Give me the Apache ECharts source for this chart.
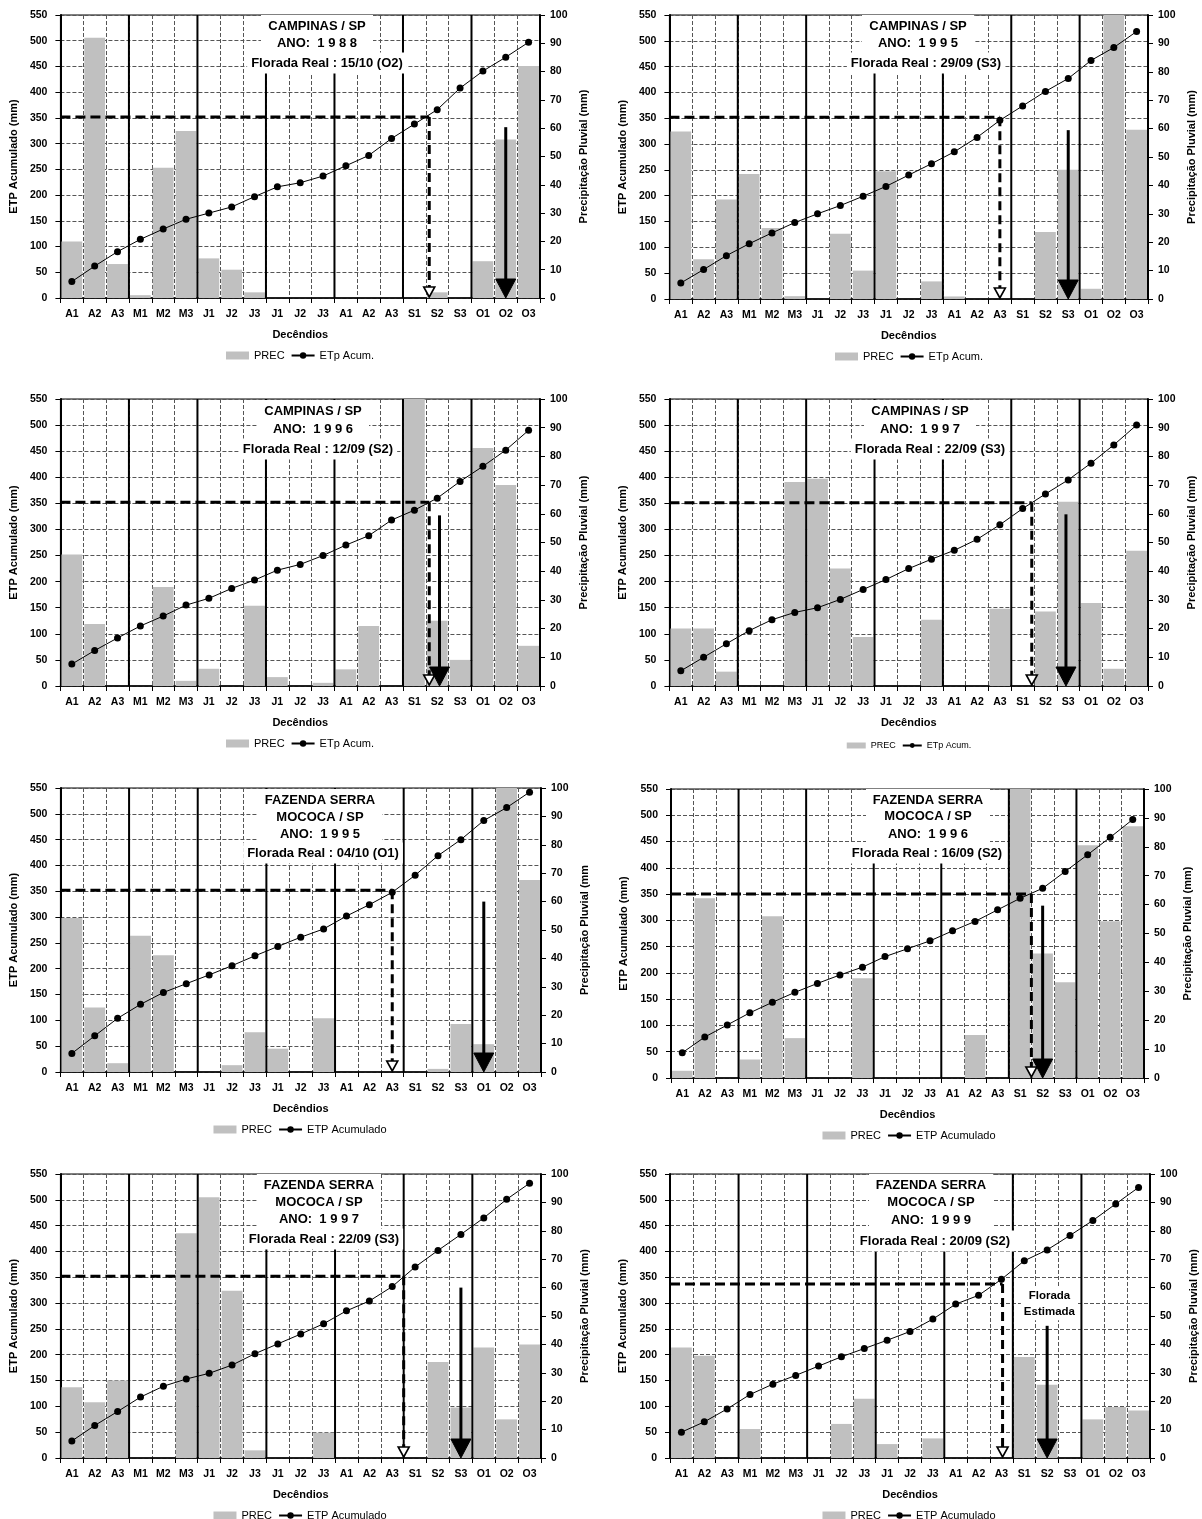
<!DOCTYPE html>
<html><head><meta charset="utf-8">
<script src="https://cdn.jsdelivr.net/npm/echarts@6/dist/echarts.min.js"></script>
<style>
html,body{margin:0;padding:0;background:#fff;overflow:hidden;width:1202px;height:1519px;position:relative}
.p{position:absolute;width:600px;height:385px}
</style></head>
<body>
<script>
// ---------- DATA ----------
const categories = ['A1','A2','A3','M1','M2','M3','J1','J2','J3','J1','J2','J3','A1','A2','A3','S1','S2','S3','O1','O2','O3'];
const monthBounds = [3, 6, 9, 12, 15, 18];

// Precipitação pluvial (mm) per decêndio
const precCampinas1988 = [20, 92, 12, 1, 46, 59, 14, 10, 2, 0, 0, 0, 0, 0, 0, 0, 2, 0, 13, 56, 82];
const precCampinas1995 = [59, 14, 35, 44, 25, 1, 0, 23, 10, 45, 0, 6.2, 0.9, 0, 0, 0, 23.6, 45.5, 3.6, 105, 59.6];
const precCampinas1996 = [45.8, 21.6, 0, 0, 34.5, 1.8, 6, 0, 28, 3.1, 0, 1.1, 5.8, 20.9, 0, 105, 22.7, 9.1, 82.9, 70, 14];
const precCampinas1997 = [20, 20, 5, 0, 0, 71.1, 72.2, 40.9, 17.1, 0, 0, 23.1, 0, 0, 26.9, 0, 26, 64.2, 28.9, 6, 47.1];
const precMococa1995 = [54.2, 22.7, 3.1, 48, 41.1, 0, 0, 2.4, 14, 8.2, 0, 18.9, 0, 0, 0, 0, 1.1, 16.9, 9.8, 105, 67.6];
const precMococa1996 = [2.5, 62.2, 0, 6.4, 56, 13.8, 0, 0, 34.5, 0, 0, 0, 0, 14.9, 0, 105, 43.1, 33.1, 80.5, 54.2, 87.1];
const precMococa1997 = [24.9, 19.6, 27.3, 0, 0, 79.1, 91.8, 58.9, 2.7, 0, 0, 8.9, 0, 0, 0, 0, 33.8, 17.8, 38.9, 13.6, 40];
const precMococa1999 = [38.9, 36, 0, 10.2, 0, 0, 0, 12, 20.9, 4.9, 0, 6.9, 0, 0, 0, 35.6, 25.8, 0, 13.6, 18, 16.7];

// ETP acumulado (mm)
const etpCampinas1988 = [32, 62, 90, 114, 134, 153, 165, 177, 197, 216, 224, 237, 257, 277, 310, 338, 366, 408, 441, 468, 497];
const etpCampinas1995 = [31, 57, 84, 107, 128, 148, 165, 181, 199, 218, 240, 262, 285, 313, 346, 374, 402, 427, 462, 487, 518];
const etpCampinas1996 = [42, 68, 92, 115, 134, 155, 168, 187, 203, 222, 233, 250, 270, 288, 318, 337, 360, 392, 421, 452, 490];
const etpCampinas1997 = [29, 55, 81, 106, 127, 141, 150, 166, 185, 204, 225, 243, 260, 281, 309, 340, 368, 395, 427, 462, 500];
const etpMococa1995 = [36, 70, 104, 131, 154, 171, 188, 206, 225, 243, 261, 277, 302, 324, 348, 381, 419, 450, 487, 512, 542];
const etpMococa1996 = [48, 78, 101, 124, 144, 163, 180, 196, 211, 231, 246, 261, 280, 298, 320, 342, 361, 393, 425, 458, 492];
const etpMococa1997 = [33, 63, 90, 118, 139, 153, 164, 180, 202, 221, 240, 260, 285, 304, 332, 370, 402, 433, 465, 501, 532];
const etpMococa1999 = [50, 70, 95, 123, 143, 160, 178, 196, 212, 228, 245, 269, 298, 315, 346, 382, 403, 431, 460, 492, 524];

// ---------- PANELS ----------
const panels = [
  {x:0, y:0, grid:{left:59, top:15, width:481, height:283}, prec:precCampinas1988, etp:etpCampinas1988,
   title:['CAMPINAS / SP','ANO:  1 9 8 8','Florada Real : 15/10 (O2)'], tx:258, tx3:268, ty:[11,28,48], boxW:100,
   thr:352, drop:16.15, arrowX:19.5, arrowTop:332, etpName:'ETp Acum.', y2Name:'Precipitação Pluvial (mm)'},
  {x:609, y:0, grid:{left:58, top:15, width:481, height:284}, prec:precCampinas1995, etp:etpCampinas1995,
   title:['CAMPINAS / SP','ANO:  1 9 9 5','Florada Real : 29/09 (S3)'], tx:251, tx3:259, ty:[11,28,48], boxW:100,
   thr:352, drop:14.5, arrowX:17.5, arrowTop:327, etpName:'ETp Acum.', y2Name:'Precipitação Pluvial (mm)'},
  {x:0, y:384, grid:{left:59, top:15, width:481, height:287}, prec:precCampinas1996, etp:etpCampinas1996,
   title:['CAMPINAS / SP','ANO:  1 9 9 6','Florada Real : 12/09 (S2)'], tx:254, tx3:259, ty:[12,30,50], boxW:100,
   thr:352, drop:16.15, arrowX:16.6, arrowTop:327, etpName:'ETp Acum.', y2Name:'Precipitação Pluvial (mm)'},
  {x:609, y:384, grid:{left:58, top:15, width:481, height:287}, prec:precCampinas1997, etp:etpCampinas1997,
   title:['CAMPINAS / SP','ANO:  1 9 9 7','Florada Real : 22/09 (S3)'], tx:253, tx3:263, ty:[12,30,50], boxW:100,
   thr:351, drop:15.9, arrowX:17.4, arrowTop:329, etpName:'ETp Acum.', y2Name:'Precipitação Pluvial (mm)', smallLegend:true},
  {x:0, y:773, grid:{left:60, top:15, width:481, height:284}, prec:precMococa1995, etp:etpMococa1995,
   title:['FAZENDA SERRA','MOCOCA / SP','ANO:  1 9 9 5','Florada Real : 04/10 (O1)'], tx:260, tx3:263, ty:[12,29,46,65], boxW:112,
   thr:352, drop:14.5, arrowX:18.5, arrowTop:330, etpName:'ETP Acumulado', y2Name:'Precipitação Pluvial (mm'},
  {x:609, y:773, grid:{left:62, top:16, width:473, height:289}, prec:precMococa1996, etp:etpMococa1996,
   title:['FAZENDA SERRA','MOCOCA / SP','ANO:  1 9 9 6','Florada Real : 16/09 (S2)'], tx:257, tx3:256, ty:[11,27,45,64], boxW:112,
   thr:350, drop:16.0, arrowX:16.5, arrowTop:328, etpName:'ETP Acumulado', y2Name:'Precipitação Pluvial (mm)'},
  {x:0, y:1159, grid:{left:60, top:15, width:481, height:284}, prec:precMococa1997, etp:etpMococa1997,
   title:['FAZENDA SERRA','MOCOCA / SP','ANO:  1 9 9 7','Florada Real : 22/09 (S3)'], tx:259, tx3:264, ty:[11,28,45,65], boxW:112,
   thr:352, drop:15.0, arrowX:17.5, arrowTop:330, etpName:'ETP Acumulado', y2Name:'Precipitação Pluvial (mm)'},
  {x:609, y:1159, grid:{left:61, top:15, width:480, height:284}, prec:precMococa1999, etp:etpMococa1999,
   title:['FAZENDA SERRA','MOCOCA / SP','ANO:  1 9 9 9','Florada Real : 20/09 (S2)'], tx:261, tx3:265, ty:[11,28,46,67], boxW:112,
   thr:337, drop:14.55, arrowX:16.5, arrowTop:256, etpName:'ETP Acumulado', y2Name:'Precipitação Pluvial (mm)',
   note:{x:16.6, ys:[314,284], lines:['Florada','Estimada']}}
];

const FONT = '"Liberation Sans", Arial, sans-serif';
const NARROW = '"Liberation Sans Narrow", "Liberation Sans", Arial, sans-serif';

function monthRender(params, api){
  const t = api.coord([api.value(0), 550]);
  const b = api.coord([api.value(0), 0]);
  return {type:'line', shape:{x1:t[0], y1:t[1], x2:b[0], y2:b[1]}, style:{stroke:'#000', lineWidth:2}};
}
function arrowRender(params, api){
  const x = api.value(0), y = api.value(1), dashed = api.value(2) === 1;
  const t = api.coord([x, y]);
  const b = api.coord([x, 0]);
  if (dashed) {
    const hh = 11, hw = 5.5;
    return {type:'group', children:[
      {type:'line', shape:{x1:t[0], y1:t[1], x2:b[0], y2:b[1]-hh}, style:{stroke:'#000', lineWidth:3, lineDash:[9,5]}},
      {type:'polygon', shape:{points:[[b[0]-hw, b[1]-hh],[b[0]+hw, b[1]-hh],[b[0], b[1]-1]]}, style:{fill:'#fff', stroke:'#000', lineWidth:1.6}}
    ]};
  }
  const hh = 19, hw = 10;
  return {type:'group', children:[
    {type:'line', shape:{x1:t[0], y1:t[1], x2:b[0], y2:b[1]-hh+2}, style:{stroke:'#000', lineWidth:3}},
    {type:'polygon', shape:{points:[[b[0]-hw, b[1]-hh],[b[0]+hw, b[1]-hh],[b[0], b[1]]]}, style:{fill:'#000', stroke:'#000', lineWidth:1}}
  ]};
}

function build(p){
  const g = p.grid;
  const n = p.title.length;
  const graphics = p.title.map((t, i) => {
    const last = i === n-1;
    const style = {text:t, font:'bold 13px ' + FONT, fill:'#000', align:'center', verticalAlign:'middle',
      backgroundColor:'#fff', lineHeight:19,
      padding: last ? [1,4] : (i === 0 ? [0,6,3,6] : [2,6])};
    if (!last) style.width = p.boxW;
    return {type:'text', z:100, x: g.left + (last ? p.tx3 : p.tx), y: g.top + p.ty[i], style:style};
  });
  const axisLabel = {fontSize:10.5, fontWeight:'bold', color:'#000', fontFamily:FONT};
  const nameStyle = {fontSize:11, fontWeight:'bold', color:'#000', fontFamily:FONT};
  const grid = '#555';
  const series = [
    {type:'bar', name:'PREC', data:p.prec, xAxisIndex:0, yAxisIndex:1, barCategoryGap:'9%',
     itemStyle:{color:'#c0c0c0'}, clip:true, z:2},
    {type:'custom', name:'months', xAxisIndex:1, yAxisIndex:0, data:monthBounds.map(b => [b, 550]),
     renderItem:monthRender, z:3, silent:true, clip:false},
    {type:'line', name:p.etpName, data:p.etp, xAxisIndex:0, yAxisIndex:0, symbol:'circle', symbolSize:7,
     lineStyle:{color:'#000', width:1}, itemStyle:{color:'#000'}, z:4},
    {type:'line', name:'limiar', xAxisIndex:1, yAxisIndex:0, data:[[0, p.thr],[p.drop, p.thr]], symbol:'none',
     lineStyle:{color:'#000', width:3, type:[10,5]}, z:5, silent:true},
    {type:'custom', name:'setas', xAxisIndex:1, yAxisIndex:0,
     data:[[p.drop, p.thr, 1],[p.arrowX, p.arrowTop, 0]], renderItem:arrowRender, z:6, silent:true, clip:false}
  ];
  if (p.note) {
    series.push({type:'custom', name:'nota', xAxisIndex:1, yAxisIndex:0,
      data:p.note.ys.map((y, i) => [p.note.x, y, i]), z:7, silent:true, clip:false,
      renderItem:function(params, api){
        const c = api.coord([api.value(0), api.value(1)]);
        return {type:'text', x:c[0], y:c[1], style:{text:p.note.lines[params.dataIndex], font:'bold 11.5px ' + FONT,
          fill:'#000', align:'center', verticalAlign:'middle', backgroundColor:'#fff', padding:[1,3], lineHeight:16}};
      }});
  }
  const small = !!p.smallLegend;
  return {
    animation:false,
    textStyle:{fontFamily:FONT},
    grid:{left:g.left, top:g.top, width:g.width, height:g.height, show:true, borderColor:'#000', borderWidth:1, backgroundColor:'#fff'},
    legend:{
      data:[{name:'PREC', icon:'rect'}, {name:p.etpName}],
      left:'center', top:g.top + g.height + (small ? 50 : 47),
      itemWidth: small ? 19 : 23, itemHeight: small ? 6 : 8, itemGap: 6,
      textStyle:{fontSize: small ? 9 : 11, color:'#000', fontFamily:NARROW},
      selectedMode:false
    },
    xAxis:[
      {type:'category', data:categories, boundaryGap:true, gridIndex:0,
       axisLine:{show:true, lineStyle:{color:'#000', width:1.5}},
       axisTick:{show:true, interval:0, length:5, lineStyle:{color:'#000'}},
       axisLabel:Object.assign({interval:0, margin:11}, axisLabel),
       splitLine:{show:true, interval:0, lineStyle:{color:grid, type:[4,2], width:1}},
       name:'Decêndios', nameLocation:'middle', nameGap:31, nameTextStyle:nameStyle},
      {type:'value', min:0, max:21, show:false, position:'top', gridIndex:0}
    ],
    yAxis:[
      {type:'value', min:0, max:550, interval:50, position:'left',
       axisLine:{show:true, lineStyle:{color:'#000', width:2}},
       axisTick:{show:true, length:5, lineStyle:{color:'#000'}},
       axisLabel:Object.assign({margin:13}, axisLabel),
       splitLine:{show:true, lineStyle:{color:grid, type:[4,2], width:1}},
       name:'ETP Acumulado (mm)', nameLocation:'middle', nameGap:34, nameTextStyle:nameStyle},
      {type:'value', min:0, max:100, interval:10, position:'right',
       axisLine:{show:true, lineStyle:{color:'#000', width:2}},
       axisTick:{show:true, length:5, lineStyle:{color:'#000'}},
       axisLabel:Object.assign({margin:10}, axisLabel),
       splitLine:{show:false},
       name:p.y2Name, nameLocation:'middle', nameGap:38, nameTextStyle:nameStyle}
    ],
    series:series,
    graphic:graphics
  };
}

panels.forEach(p => {
  const d = document.createElement('div');
  d.className = 'p';
  d.style.left = p.x + 'px';
  d.style.top = p.y + 'px';
  if (p.y + 385 > 1519) d.style.height = (1519 - p.y) + 'px';
  document.body.appendChild(d);
  const chart = echarts.init(d, null, {renderer:'canvas'});
  chart.setOption(build(p));
});
</script>
</body></html>
